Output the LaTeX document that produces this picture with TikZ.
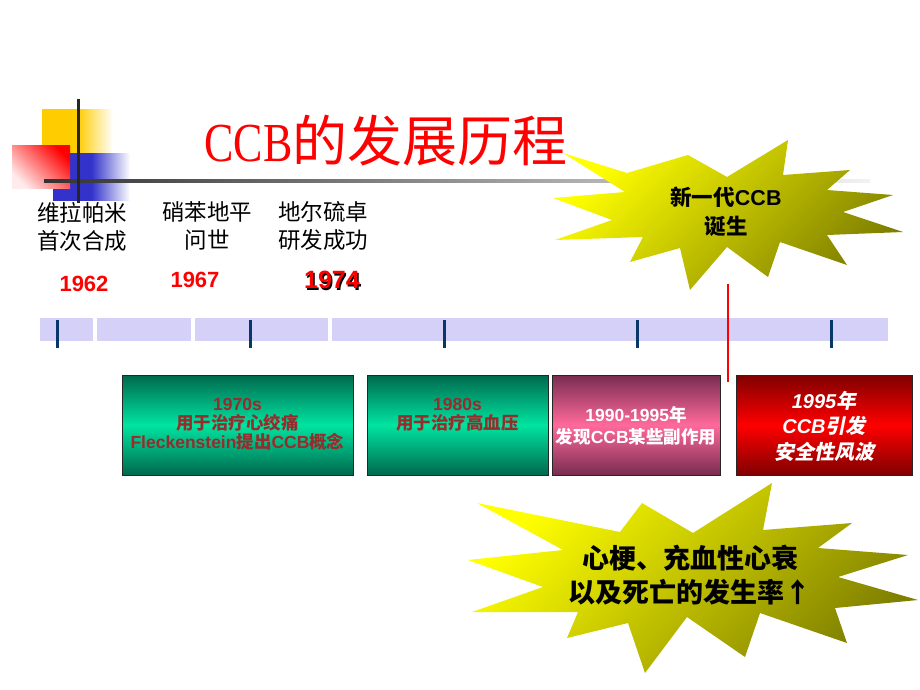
\documentclass[tikz,border=0pt]{standalone}
\usepackage{fontspec}
\usepackage{tikz}
\setmainfont{Liberation Sans}
\newfontfamily\cjk{Noto Sans CJK SC}
\newfontfamily\cjkit{Noto Sans CJK SC}[FakeSlant=0.2]
\newfontfamily\titlelat{Liberation Serif}[FakeStretch=0.8]

\definecolor{barlav}{RGB}{212,208,248}
\definecolor{ticknavy}{RGB}{10,55,105}
\definecolor{tealdark}{RGB}{0,105,78}
\definecolor{teallight}{RGB}{0,228,160}
\definecolor{pinkdark}{RGB}{120,45,80}
\definecolor{pinklight}{RGB}{255,105,155}
\definecolor{reddark}{RGB}{128,0,0}
\definecolor{boxtext}{RGB}{150,45,45}
\definecolor{starolive}{RGB}{128,128,0}
\definecolor{logogold}{RGB}{255,204,0}
\definecolor{logoblue}{RGB}{51,51,204}

\tikzset{
  yearlabel/.style={text=red, font=\bfseries\fontsize{22}{26}\selectfont, inner sep=0},
  eventlabel/.style={align=center, inner sep=0, font=\cjk\fontsize{22.5}{28}\selectfont},
  tick/.style={ticknavy, line width=3pt},
  periodbox/.style={draw=black!85, line width=0.7pt, minimum height=100pt, inner sep=0},
  boxlabel/.style={align=center, inner sep=0, font=\bfseries\fontsize{17.5}{19}\selectfont},
  starfill/.style={top color=yellow, bottom color=starolive, shading angle=45},
}

\begin{document}
\begin{tikzpicture}[x=1pt,y=-1pt]
  \useasboundingbox (0,0) rectangle (920,690);
  \fill[white] (0,0) rectangle (920,690);

  % logo
  \shade[left color=logogold, right color=white, middle color=logogold] (42,110) rectangle (113,153);
  \shade[left color=logoblue, right color=white, middle color=logoblue] (53,153) rectangle (130,200);
  \shade[top color=red, bottom color=red!8, shading angle=-45] (12,145) rectangle (70,188);
  \shade[left color=black!80, right color=black!5] (44,179.5) rectangle (870,182.5);
  \draw[black!85, line width=3pt] (78,99) -- (78,203);

  % title
  \node[text=red, inner sep=0] (title) at (386,141)
    {\fontsize{55}{60}\selectfont{\titlelat CCB}{\cjk 的发展历程}};

  % early events
  \node[eventlabel] (verap) at (82,227) {维拉帕米\\首次合成};
  \node[eventlabel] (nifed) at (207,226) {硝苯地平\\问世};
  \node[eventlabel] (dilti) at (323,226) {地尔硫卓\\研发成功};
  \node[yearlabel] (y62) at (84,284) {1962};
  \node[yearlabel] (y67) at (195,280) {1967};
  \node[yearlabel, text=black, font=\bfseries\fontsize{25}{28}\selectfont] at (333.5,281.5) {1974};
  \node[yearlabel, font=\bfseries\fontsize{25}{28}\selectfont] (y74) at (332,280) {1974};

  % time axis
  \fill[barlav] (40,318) rectangle (93,341);
  \fill[barlav] (97,318) rectangle (191,341);
  \fill[barlav] (195,318) rectangle (328,341);
  \fill[barlav] (332,318) rectangle (888,341);
  \foreach \x in {57,250,444,637,831}
    \draw[tick] (\x,320) -- (\x,348);

  % periods
  \node[periodbox, minimum width=231pt, top color=tealdark, bottom color=tealdark, middle color=teallight] (b70) at (237.5,425) {};
  \node[periodbox, minimum width=181pt, top color=tealdark, bottom color=tealdark, middle color=teallight] (b80) at (457.5,425) {};
  \node[periodbox, minimum width=168pt, top color=pinkdark, bottom color=pinkdark, middle color=pinklight] (b90) at (636,425) {};
  \node[periodbox, minimum width=176pt, top color=reddark, bottom color=reddark, middle color=red] (b95) at (824,425) {};

  \node[boxlabel, text=boxtext] (t70) at (237.5,424)
    {1970s\\{\cjk 用于治疗心绞痛}\\Fleckenstein{\cjk 提出}CCB{\cjk 概念}};
  \node[boxlabel, text=boxtext] (t80) at (457.5,415)
    {1980s\\{\cjk 用于治疗高血压}};
  \node[boxlabel, text=white, font=\bfseries\fontsize{17.5}{22}\selectfont] (t90) at (636,426)
    {1990-1995{\cjk 年}\\{\cjk 发现}CCB{\cjk 某些副作用}};
  \node[boxlabel, text=white, font=\bfseries\itshape\fontsize{20}{25.5}\selectfont] (t95) at (824,426)
    {1995{\cjkit 年}\\CCB{\cjkit 引发}\\{\cjkit 安全性风波}};

  % new generation burst
  \shade[starfill] (563,153) -- (627,173) -- (688,155) -- (727,177) -- (788,140) -- (783,175)
    -- (850,170) -- (827,190) -- (893,195) -- (843,212) -- (903,232) -- (827,235) -- (847,265)
    -- (780,242) -- (768,277) -- (727,247) -- (690,290) -- (680,248) -- (630,262) -- (643,237)
    -- (555,240) -- (612,220) -- (553,198) -- (625,192) -- cycle;
  \node[align=center, inner sep=0, font=\bfseries\fontsize{21.5}{29}\selectfont] (newgen) at (726,212)
    {{\cjk 新一代}CCB\\{\cjk 诞生}};
  \coordinate (rtop) at (728,284);
  \coordinate (rbot) at (728,382);
  \draw[red, line width=2.5pt] (rtop) -- (rbot);

  % outcome burst
  \shade[starfill] (477,503) -- (620,532) -- (642,503) -- (693,533) -- (772,483) -- (763,530)
    -- (852,523) -- (818,548) -- (908,555) -- (838,577) -- (918,600) -- (835,608) -- (847,643)
    -- (760,613) -- (745,657) -- (687,617) -- (645,673) -- (628,623) -- (567,638) -- (578,612)
    -- (472,612) -- (543,587) -- (468,560) -- (563,550) -- cycle;
  \node[align=center, inner sep=0, font=\cjk\bfseries\fontsize{27}{34}\selectfont] (outcome) at (690,575)
    {心梗、充血性心衰\\以及死亡的发生率↑};
\end{tikzpicture}
\end{document}
